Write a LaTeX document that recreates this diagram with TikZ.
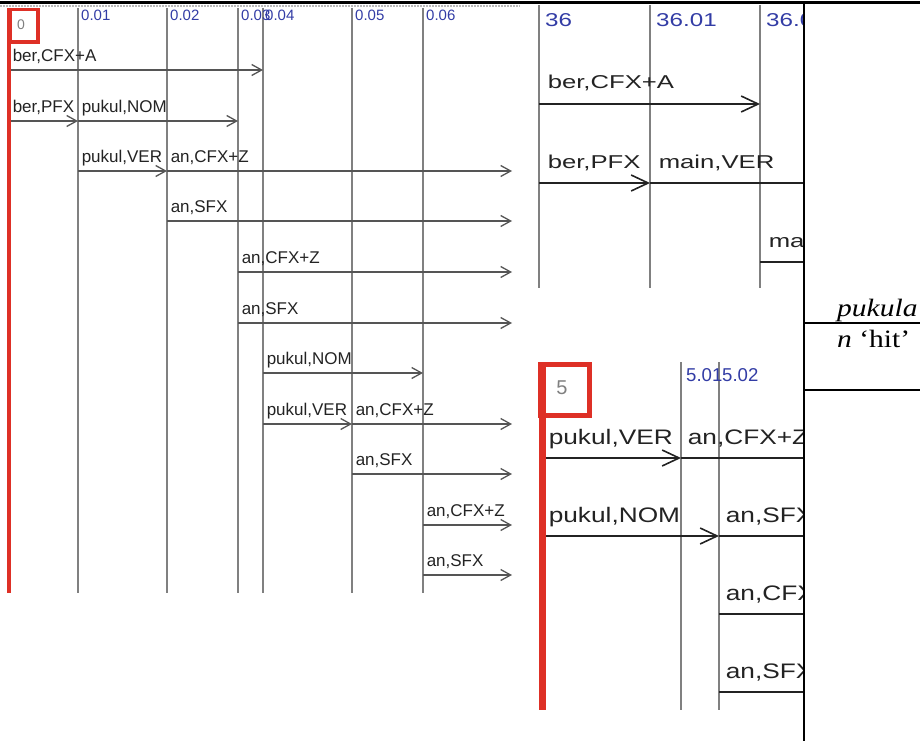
\documentclass[tikz,border=0pt]{standalone}
\usepackage{fontspec}
\setmainfont{Liberation Serif}
\newfontfamily\lblfont{Liberation Sans}
\newfontfamily\lblwide[FakeStretch=1.38]{Liberation Sans}
\newfontfamily\lblmid[FakeStretch=1.25]{Liberation Sans}
\newfontfamily\stampwide[FakeStretch=1.3]{Liberation Sans}
\newfontfamily\glossfont[FakeStretch=1.18]{Liberation Serif}
\usetikzlibrary{arrows.meta,positioning,calc}
\definecolor{stampblue}{RGB}{50,60,165}
\definecolor{markred}{RGB}{222,48,38}
\definecolor{railgray}{RGB}{128,128,128}
\definecolor{hopgray}{RGB}{85,85,85}
\definecolor{hopdark}{RGB}{35,35,35}
\definecolor{inkgray}{RGB}{35,35,35}

\begin{document}
\begin{tikzpicture}[x=1pt, y=-1pt,
  rail/.style={railgray, line width=2pt},
  hop/.style={hopgray, line width=1.5pt,
    -{Straight Barb[length=10pt, width=11pt, line width=1.3pt]}},
  runon/.style={hopgray, line width=1.5pt},
  bighop/.style={hopdark, line width=1.6pt,
    -{Straight Barb[length=17pt, width=16pt, line width=1.6pt]}},
  bigrun/.style={hopdark, line width=1.6pt},
  morph/.style={pos=0, anchor=base west, inner sep=0pt, text=inkgray},
  morphS/.style={morph, xshift=3pt, yshift=8.5pt,
    font=\lblfont\fontsize{17}{17}\selectfont},
  morphA/.style={morph, xshift=8pt, yshift=15pt,
    font=\lblwide\fontsize{18.6}{18.6}\selectfont},
  morphB/.style={morph, xshift=6pt, yshift=14pt,
    font=\lblmid\fontsize{21}{21}\selectfont},
  stamp/.style={anchor=base west, inner sep=0pt, text=stampblue,
    font=\lblfont\fontsize{15}{15}\selectfont},
  cell/.style={black, line width=2pt},
]
  \useasboundingbox (0,0) rectangle (920,741);
  % Table rules
  \draw[gray!55, line width=2pt, dash pattern=on 2pt off 1pt] (0,6) -- (520,6);
  \draw[black, line width=3pt] (0,3) -- (920,3);

  % Left chart: columns and rows
  \coordinate (v0) at (9,8);
  \coordinate (v1) at (78,8);
  \coordinate (v2) at (167,8);
  \coordinate (v3) at (238,8);
  \coordinate (v4) at (263,8);
  \coordinate (v5) at (352,8);
  \coordinate (v6) at (423,8);
  \coordinate (vend) at (512,8);
  \coordinate (vbot) at (0,593);
  \coordinate (r1) at (0,70);
  \coordinate (r2) at (0,121);
  \coordinate (r3) at (0,171);
  \coordinate (r4) at (0,221);
  \coordinate (r5) at (0,272);
  \coordinate (r6) at (0,323);
  \coordinate (r7) at (0,373);
  \coordinate (r8) at (0,424);
  \coordinate (r9) at (0,474);
  \coordinate (r10) at (0,525);
  \coordinate (r11) at (0,575);
  \draw[rail] (v1) -- (v1 |- vbot);
  \draw[rail] (v2) -- (v2 |- vbot);
  \draw[rail] (v3) -- (v3 |- vbot);
  \draw[rail] (v4) -- (v4 |- vbot);
  \draw[rail] (v5) -- (v5 |- vbot);
  \draw[rail] (v6) -- (v6 |- vbot);
  % Left chart: arcs
  \draw[hop] (v0 |- r1) -- (v4 |- r1) node[morphS] (a1) {ber,CFX+A};
  \draw[hop] (v0 |- r2) -- (v1 |- r2) node[morphS] (a2) {ber,PFX};
  \draw[hop] (v1 |- r2) -- (v3 |- r2) node[morphS] (a3) {pukul,NOM};
  \draw[hop] (v1 |- r3) -- (v2 |- r3) node[morphS] (a4) {pukul,VER};
  \draw[hop] (v2 |- r3) -- (vend |- r3) node[morphS] (a5) {an,CFX+Z};
  \draw[hop] (v2 |- r4) -- (vend |- r4) node[morphS] (a6) {an,SFX};
  \draw[hop] (v3 |- r5) -- (vend |- r5) node[morphS] (a7) {an,CFX+Z};
  \draw[hop] (v3 |- r6) -- (vend |- r6) node[morphS] (a8) {an,SFX};
  \draw[hop] (v4 |- r7) -- (v6 |- r7) node[morphS] (a9) {pukul,NOM};
  \draw[hop] (v4 |- r8) -- (v5 |- r8) node[morphS] (a10) {pukul,VER};
  \draw[hop] (v5 |- r8) -- (vend |- r8) node[morphS] (a11) {an,CFX+Z};
  \draw[hop] (v5 |- r9) -- (vend |- r9) node[morphS] (a12) {an,SFX};
  \draw[hop] (v6 |- r10) -- (vend |- r10) node[morphS] (a13) {an,CFX+Z};
  \draw[hop] (v6 |- r11) -- (vend |- r11) node[morphS] (a14) {an,SFX};
  % Left chart: start mark and positions
  \draw[markred, line width=3.4pt] (v0) -- (v0 |- vbot);
  \draw[markred, line width=3.5pt] (10.5,9.5) rectangle (38,42);
  \node[text=gray, font=\lblfont\fontsize{14}{14}\selectfont] (s0) at (21,25) {0};
  \node[stamp] (s1) at ([shift={(3,13)}]v1) {0.01};
  \node[stamp] (s2) at ([shift={(3,13)}]v2) {0.02};
  \node[stamp] (s3) at ([shift={(3,13)}]v3) {0.03};
  \node[stamp] (s4) at ([shift={(2,13)}]v4) {0.04};
  \node[stamp] (s5) at ([shift={(3,13)}]v5) {0.05};
  \node[stamp] (s6) at ([shift={(3,13)}]v6) {0.06};

  % Top right chart
  \begin{scope}
    \clip (528,4.5) rectangle (803,300);
    \coordinate (w0) at (539,5);
    \coordinate (w1) at (650,5);
    \coordinate (w2) at (760,5);
    \coordinate (wend) at (815,5);
    \coordinate (wbot) at (0,288);
    \coordinate (q1) at (0,104);
    \coordinate (q2) at (0,183);
    \coordinate (q3) at (0,262);
    \draw[rail, line width=2.6pt] (w0) -- (w0 |- wbot);
    \draw[rail, line width=2.6pt] (w1) -- (w1 |- wbot);
    \draw[rail, line width=2.6pt] (w2) -- (w2 |- wbot);
    \draw[bighop] (w0 |- q1) -- (w2 |- q1) node[morphA] (b1) {ber,CFX+A};
    \draw[bighop] (w0 |- q2) -- (w1 |- q2) node[morphA] (b2) {ber,PFX};
    \draw[bigrun] (w1 |- q2) -- (wend |- q2) node[morphA] (b3) {main,VER};
    \draw[bigrun] (w2 |- q3) -- (wend |- q3) node[morphA] (b4) {ma};
    \node[stamp, font=\stampwide\fontsize{18.6}{18.6}\selectfont]
      (t0) at ([shift={(6,22)}]w0) {36};
    \node[stamp, font=\stampwide\fontsize{18.6}{18.6}\selectfont]
      (t1) at ([shift={(6,22)}]w1) {36.01};
    \node[stamp, font=\stampwide\fontsize{18.6}{18.6}\selectfont]
      (t2) at ([shift={(6,22)}]w2) {36.02};
  \end{scope}

  % Bottom right chart
  \begin{scope}
    \clip (528,355) rectangle (803,712);
    \coordinate (u0) at (542,362);
    \coordinate (u1) at (681,362);
    \coordinate (u2) at (719,362);
    \coordinate (uend) at (815,362);
    \coordinate (ubot) at (0,710);
    \coordinate (p1) at (0,458);
    \coordinate (p2) at (0,536);
    \coordinate (p3) at (0,614);
    \coordinate (p4) at (0,692);
    \draw[rail, line width=2.6pt] (u1) -- (u1 |- ubot);
    \draw[rail, line width=2.6pt] (u2) -- (u2 |- ubot);
    \draw[bighop] (u0 |- p1) -- (u1 |- p1) node[morphB] (c1) {pukul,VER};
    \draw[bigrun] (u1 |- p1) -- (uend |- p1) node[morphB] (c2) {an,CFX+Z};
    \draw[bighop] (u0 |- p2) -- (u2 |- p2) node[morphB] (c3) {pukul,NOM};
    \draw[bigrun] (u2 |- p2) -- (uend |- p2) node[morphB] (c4) {an,SFX};
    \draw[bigrun] (u2 |- p3) -- (uend |- p3) node[morphB] (c5) {an,CFX+Z};
    \draw[bigrun] (u2 |- p4) -- (uend |- p4) node[morphB] (c6) {an,SFX};
    \draw[markred, line width=7pt] (u0) -- (u0 |- ubot);
    \draw[markred, line width=5.5pt] (540.5,364.5) rectangle (589.5,415.5);
    \node[text=gray, font=\lblfont\fontsize{20}{20}\selectfont] (k0) at (562,388) {5};
    \node[stamp, font=\lblfont\fontsize{18.6}{18.6}\selectfont]
      (k1) at ([shift={(5,19)}]u1) {5.01};
    \node[stamp, font=\lblfont\fontsize{18.6}{18.6}\selectfont]
      (k2) at ([shift={(3,19)}]u2) {5.02};
  \end{scope}

  % Gloss column
  \draw[cell] (804,3) -- (804,741);
  \draw[cell] (804,323) -- (920,323);
  \draw[cell] (804,390) -- (920,390);
  \node[anchor=base west, inner sep=0pt, align=left,
    font=\glossfont\fontsize{25}{31}\selectfont] (g) at (837,347)
    {\textit{pukula}\\\textit{n} ‘hit’};
\end{tikzpicture}
\end{document}
